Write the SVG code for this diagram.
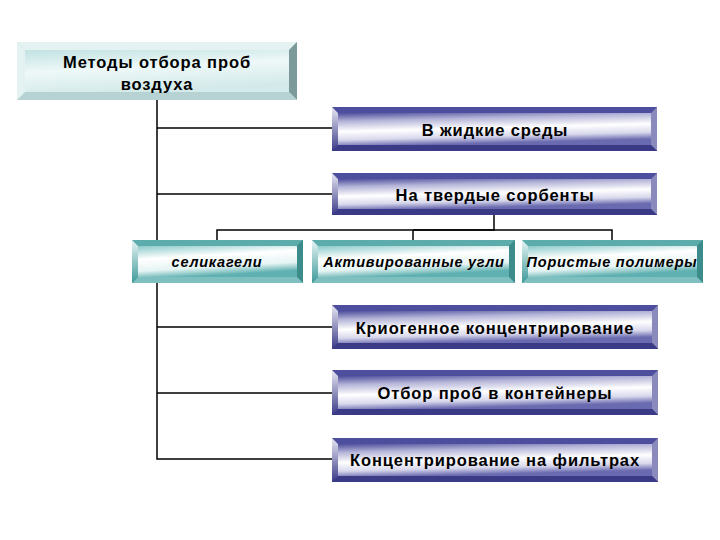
<svg xmlns="http://www.w3.org/2000/svg" width="720" height="540" viewBox="0 0 720 540">
<defs>
<linearGradient id="pf" x1="0" y1="0" x2="0.25" y2="1">
<stop offset="0" stop-color="#4d4d9c"/>
<stop offset="0.25" stop-color="#b4b4d8"/>
<stop offset="0.55" stop-color="#ffffff"/>
<stop offset="0.8" stop-color="#d8d8ec"/>
<stop offset="1" stop-color="#6a6ab0"/>
</linearGradient>
<linearGradient id="tf" x1="0" y1="0" x2="0.3" y2="1">
<stop offset="0" stop-color="#8ccaca"/>
<stop offset="0.4" stop-color="#ffffff"/>
<stop offset="0.75" stop-color="#e6f4f4"/>
<stop offset="1" stop-color="#5fb0b0"/>
</linearGradient>
<linearGradient id="hf" x1="0" y1="0" x2="0.3" y2="1">
<stop offset="0" stop-color="#c2e2e2"/>
<stop offset="0.5" stop-color="#eef8f8"/>
<stop offset="1" stop-color="#d4eaea"/>
</linearGradient>
<linearGradient id="pl" x1="0" y1="0" x2="0" y2="1">
<stop offset="0" stop-color="#e8e8f4"/>
<stop offset="1" stop-color="#3a3a88"/>
</linearGradient>
<linearGradient id="tl" x1="0" y1="0" x2="0" y2="1">
<stop offset="0" stop-color="#e6f4f4"/>
<stop offset="1" stop-color="#3f9a9a"/>
</linearGradient>
</defs>
<style>
.c{stroke:#000;stroke-width:1.5;fill:none}
.t{font-family:"Liberation Sans",Arial,sans-serif;font-weight:bold;fill:#000;text-anchor:middle}
.pt{font-size:16.5px;letter-spacing:0.9px}
.it{font-size:14.5px;font-style:italic;letter-spacing:0.75px}
.ht{font-size:16.5px;letter-spacing:0.9px}
.p0{fill:#3c3c88}.p1{fill:#4e4e9e}.p2{fill:#8a8abc}.p3{fill:#3a3a86}
.t0{fill:#3f8f8f}.t1{fill:#5cacac}.t2{fill:#3d8c8c}.t3{fill:#7ec0c0}
.h1{fill:#d6ecec}.h2{fill:#7d9a9a}.h3{fill:#b6d2d2}.h4{fill:#e4f2f2}
</style>

<g id="connectors">
<polyline class="c" points="157,100 157,459 332,459"/>
<line class="c" x1="157" y1="128" x2="332" y2="128"/>
<line class="c" x1="157" y1="194" x2="332" y2="194"/>
<line class="c" x1="157" y1="327" x2="332" y2="327"/>
<line class="c" x1="157" y1="393" x2="332" y2="393"/>
<polyline class="c" points="494,215 494,230 413,230"/>
<polyline class="c" points="217,240 217,230 612,230 612,240"/>
<line class="c" x1="413" y1="230" x2="413" y2="240"/>
</g>

<g id="n-root">
<rect x="17" y="42" width="280" height="58" class="h3"/>
<polygon class="h4" points="17,42 297,42 289,50 25,50"/>
<polygon class="h2" points="297,42 297,100 289,92 289,50"/>
<polygon class="h3" points="17,100 297,100 289,92 25,92"/>
<polygon class="h4" points="17,42 17,100 25,92 25,50"/>
<rect x="25" y="50" width="264" height="42" fill="url(#hf)"/>
<text class="t ht" x="157" y="68">Методы отбора проб</text>
<text class="t ht" x="157" y="90">воздуха</text>
</g>

<g id="n-liquid">
<rect x="332" y="107" width="325" height="44" class="p0"/>
<polygon class="p1" points="332,107 657,107 651,113 338,113"/>
<polygon class="p2" points="657,107 657,151 651,145 651,113"/>
<polygon class="p3" points="332,151 657,151 651,145 338,145"/>
<polygon fill="url(#pl)" points="332,107 332,151 338,145 338,113"/>
<rect x="338" y="113" width="313" height="32" fill="url(#pf)"/>
<text class="t pt" x="495" y="136">В жидкие среды</text>
</g>

<g id="n-solid">
<rect x="332" y="173" width="325" height="42" class="p0"/>
<polygon class="p1" points="332,173 657,173 651,179 338,179"/>
<polygon class="p2" points="657,173 657,215 651,209 651,179"/>
<polygon class="p3" points="332,215 657,215 651,209 338,209"/>
<polygon fill="url(#pl)" points="332,173 332,215 338,209 338,179"/>
<rect x="338" y="179" width="313" height="30" fill="url(#pf)"/>
<text class="t pt" x="495" y="201">На твердые сорбенты</text>
</g>

<g id="n-silica">
<rect x="132" y="240" width="171" height="43" class="t0"/>
<polygon class="t1" points="132,240 303,240 297,246 138,246"/>
<polygon class="t2" points="303,240 303,283 297,277 297,246"/>
<polygon class="t3" points="132,283 303,283 297,277 138,277"/>
<polygon fill="url(#tl)" points="132,240 132,283 138,277 138,246"/>
<rect x="138" y="246" width="159" height="31" fill="url(#tf)"/>
<text class="t it" x="217" y="267">селикагели</text>
</g>

<g id="n-carbon">
<rect x="312" y="240" width="203" height="43" class="t0"/>
<polygon class="t1" points="312,240 515,240 509,246 318,246"/>
<polygon class="t2" points="515,240 515,283 509,277 509,246"/>
<polygon class="t3" points="312,283 515,283 509,277 318,277"/>
<polygon fill="url(#tl)" points="312,240 312,283 318,277 318,246"/>
<rect x="318" y="246" width="191" height="31" fill="url(#tf)"/>
<text class="t it" x="414" y="267">Активированные угли</text>
</g>

<g id="n-polymer">
<rect x="522" y="240" width="181" height="43" class="t0"/>
<polygon class="t1" points="522,240 703,240 697,246 528,246"/>
<polygon class="t2" points="703,240 703,283 697,277 697,246"/>
<polygon class="t3" points="522,283 703,283 697,277 528,277"/>
<polygon fill="url(#tl)" points="522,240 522,283 528,277 528,246"/>
<rect x="528" y="246" width="169" height="31" fill="url(#tf)"/>
<text class="t it" x="612" y="267">Пористые полимеры</text>
</g>

<g id="n-cryo">
<rect x="332" y="305" width="326" height="44" class="p0"/>
<polygon class="p1" points="332,305 658,305 652,311 338,311"/>
<polygon class="p2" points="658,305 658,349 652,343 652,311"/>
<polygon class="p3" points="332,349 658,349 652,343 338,343"/>
<polygon fill="url(#pl)" points="332,305 332,349 338,343 338,311"/>
<rect x="338" y="311" width="314" height="32" fill="url(#pf)"/>
<text class="t pt" x="495" y="334">Криогенное концентрирование</text>
</g>

<g id="n-container">
<rect x="332" y="370" width="326" height="45" class="p0"/>
<polygon class="p1" points="332,370 658,370 652,376 338,376"/>
<polygon class="p2" points="658,370 658,415 652,409 652,376"/>
<polygon class="p3" points="332,415 658,415 652,409 338,409"/>
<polygon fill="url(#pl)" points="332,370 332,415 338,409 338,376"/>
<rect x="338" y="376" width="314" height="33" fill="url(#pf)"/>
<text class="t pt" x="495" y="399">Отбор проб в контейнеры</text>
</g>

<g id="n-filter">
<rect x="332" y="438" width="326" height="44" class="p0"/>
<polygon class="p1" points="332,438 658,438 652,444 338,444"/>
<polygon class="p2" points="658,438 658,482 652,476 652,444"/>
<polygon class="p3" points="332,482 658,482 652,476 338,476"/>
<polygon fill="url(#pl)" points="332,438 332,482 338,476 338,444"/>
<rect x="338" y="444" width="314" height="32" fill="url(#pf)"/>
<text class="t pt" x="495" y="466">Концентрирование на фильтрах</text>
</g>
</svg>
